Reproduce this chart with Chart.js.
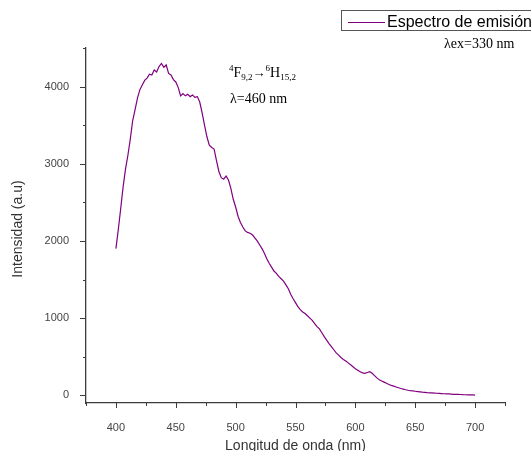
<!DOCTYPE html>
<html lang="es">
<head>
<meta charset="utf-8">
<title>Espectro de emisión</title>
<script src="https://cdn.jsdelivr.net/npm/chart.js@4.4.1/dist/chart.umd.min.js"></script>
<style>
    html, body { margin: 0; padding: 0; background: #fff; }
    #espectroChart { display: block; }
</style>
</head>
<body>
<canvas id="espectroChart" width="531" height="451"></canvas>
<script>
const longitudes = [
    400, 402, 404, 406, 408, 410, 412, 414, 416, 418,
    420, 422, 424, 426, 428, 430, 432, 434, 436, 438,
    440, 442, 444, 446, 448, 450, 452, 454, 456, 458,
    460, 462, 464, 466, 468, 470, 472, 474, 476, 478,
    480, 482, 484, 486, 488, 490, 492, 494, 496, 498,
    500, 502, 504, 506, 508, 510, 512, 514, 516, 518,
    520, 522, 524, 526, 528, 530, 532, 534, 536, 538,
    540, 542, 544, 546, 548, 550, 552, 554, 556, 558,
    560, 562, 564, 566, 568, 570, 572, 574, 576, 578,
    580, 582, 584, 586, 588, 590, 592, 594, 596, 598,
    600, 602, 604, 606, 608, 610, 612, 614, 616, 618,
    620, 622, 624, 626, 628, 630, 632, 634, 636, 638,
    640, 642, 644, 646, 648, 650, 652, 654, 656, 658,
    660, 662, 664, 666, 668, 670, 672, 674, 676, 678,
    680, 682, 684, 686, 688, 690, 692, 694, 696, 698,
    700
];
const intensidades = [
    1900, 2150, 2420, 2700, 2930, 3110, 3320, 3560, 3700, 3850,
    3960, 4020, 4080, 4110, 4160, 4150, 4215, 4190, 4260, 4300,
    4250, 4280, 4170, 4150, 4090, 4060, 3990, 3880, 3910, 3880,
    3900, 3870, 3890, 3860, 3870, 3800, 3660, 3500, 3350, 3240,
    3210, 3190, 3040, 2900, 2820, 2800, 2840, 2790, 2680, 2540,
    2440, 2320, 2240, 2180, 2130, 2110, 2100, 2080, 2040, 2000,
    1950, 1900, 1840, 1770, 1710, 1660, 1610, 1580, 1540, 1510,
    1480, 1430, 1380, 1310, 1250, 1200, 1150, 1110, 1080, 1060,
    1030, 1000, 970, 930, 890, 860, 810, 760, 715, 670,
    630, 590, 550, 520, 490, 465, 445, 420, 395, 370,
    345, 325, 305, 290, 285, 295, 305, 285, 255, 225,
    200, 185, 170, 155, 140, 128, 118, 108, 98, 88,
    80, 72, 65, 60, 56, 52, 48, 44, 40, 37,
    34, 32, 30, 28, 26, 24, 22, 20, 18, 17,
    15, 13, 12, 11, 10, 8, 7, 6, 5, 4,
    3
];

// Marcas de los ejes
const xTicks = [375, 400, 425, 450, 475, 500, 525, 550, 575, 600, 625, 650, 675, 700, 725];
const yTicks = [0, 500, 1000, 1500, 2000, 2500, 3000, 3500, 4000, 4500];

const COLOR_LINEA = '#800080';
const COLOR_EJE = '#3c3c3c';

document.addEventListener('DOMContentLoaded', () => {
    initializeChart();
});

// Marcas, títulos, leyenda y anotaciones
const decoracionPlugin = {
    id: 'decoracion',
    afterDraw(chart) {
        const { ctx, chartArea, scales } = chart;
        const x = scales.x;
        const y = scales.y;

        ctx.save();
        ctx.strokeStyle = COLOR_EJE;
        ctx.lineWidth = 1;

        // marcas eje Y
        yTicks.forEach(v => {
            const py = Math.round(y.getPixelForValue(v)) + 0.5;
            const len = v % 1000 === 0 ? 6 : 3;
            ctx.beginPath();
            ctx.moveTo(chartArea.left - len, py);
            ctx.lineTo(chartArea.left, py);
            ctx.stroke();
        });

        // marcas eje X
        xTicks.forEach(v => {
            const px = Math.round(x.getPixelForValue(v)) + 0.5;
            const len = v % 50 === 0 ? 5 : 3;
            ctx.beginPath();
            ctx.moveTo(px, chartArea.bottom);
            ctx.lineTo(px, chartArea.bottom + len);
            ctx.stroke();
        });

        // títulos de ejes
        ctx.fillStyle = '#333';
        ctx.font = '14px Arial, "Liberation Sans", sans-serif';
        ctx.textAlign = 'center';
        ctx.textBaseline = 'middle';
        ctx.fillText('Longitud de onda (nm)', (chartArea.left + chartArea.right) / 2, 446);

        ctx.save();
        ctx.translate(18, 229);
        ctx.rotate(-Math.PI / 2);
        ctx.fillText('Intensidad (a.u)', 0, 0);
        ctx.restore();

        // leyenda
        ctx.strokeStyle = '#555';
        ctx.strokeRect(341.5, 10.5, 200, 20);
        ctx.strokeStyle = COLOR_LINEA;
        ctx.lineWidth = 1.2;
        ctx.beginPath();
        ctx.moveTo(348, 22.5);
        ctx.lineTo(385, 22.5);
        ctx.stroke();
        ctx.fillStyle = '#000';
        ctx.font = '16px Arial, "Liberation Sans", sans-serif';
        ctx.textAlign = 'left';
        ctx.textBaseline = 'alphabetic';
        ctx.fillText('Espectro de emisión', 387, 27);

        // anotaciones (serif)
        ctx.font = '14px "Times New Roman", "Liberation Serif", serif';
        ctx.fillText('λex=330 nm', 444, 48);
        ctx.fillText('λ=460 nm', 230, 103);

        drawTransicion(ctx, 229, 77);

        ctx.restore();
    }
};

// ⁴F9/2 → ⁶H15/2 con super y subíndices
function drawTransicion(ctx, x0, base) {
    const serif = '"Times New Roman", "Liberation Serif", serif';
    const partes = [
        { t: '4', size: 9, dy: -6 },
        { t: 'F', size: 14, dy: 0 },
        { t: '9,2', size: 9, dy: 3 },
        { t: '→', size: 13, dy: 0 },
        { t: '6', size: 9, dy: -6 },
        { t: 'H', size: 14, dy: 0 },
        { t: '15,2', size: 9, dy: 3 }
    ];
    let cx = x0;
    partes.forEach(p => {
        ctx.font = `${p.size}px ${serif}`;
        ctx.fillText(p.t, cx, base + p.dy);
        cx += ctx.measureText(p.t).width;
    });
}

function initializeChart() {
    const ctx = document.getElementById('espectroChart').getContext('2d');
    const puntos = longitudes.map((l, i) => ({ x: l, y: intensidades[i] }));

    new Chart(ctx, {
        type: 'line',
        data: {
            datasets: [{
                label: 'Espectro de emisión',
                data: puntos,
                borderColor: COLOR_LINEA,
                borderWidth: 1.2,
                pointRadius: 0,
                tension: 0,
                fill: false
            }]
        },
        options: {
            responsive: false,
            animation: false,
            devicePixelRatio: 1,
            layout: { padding: { top: 48, right: 26, bottom: 0, left: 0 } },
            plugins: {
                legend: { display: false },
                tooltip: { enabled: false }
            },
            scales: {
                x: {
                    type: 'linear',
                    min: 375,
                    max: 725,
                    grid: { display: false },
                    border: { display: true, color: COLOR_EJE, width: 1.3 },
                    afterBuildTicks: scale => { scale.ticks = xTicks.map(v => ({ value: v })); },
                    afterFit: scale => { scale.height = 48; },
                    ticks: {
                        autoSkip: false,
                        maxRotation: 0,
                        padding: 10,
                        color: '#444',
                        font: { family: 'Arial, "Liberation Sans", sans-serif', size: 11 },
                        callback: v => (v % 50 === 0 && v >= 400 && v <= 700) ? String(v) : ''
                    }
                },
                y: {
                    type: 'linear',
                    min: -100,
                    max: 4500,
                    grid: { display: false },
                    border: { display: true, color: COLOR_EJE, width: 1.3 },
                    afterBuildTicks: scale => { scale.ticks = yTicks.map(v => ({ value: v })); },
                    afterFit: scale => { scale.width = 86; },
                    ticks: {
                        autoSkip: false,
                        padding: 9,
                        color: '#444',
                        font: { family: 'Arial, "Liberation Sans", sans-serif', size: 11 },
                        callback: v => v % 1000 === 0 ? String(v) : ''
                    }
                }
            }
        },
        plugins: [decoracionPlugin]
    });
}
</script>
</body>
</html>
